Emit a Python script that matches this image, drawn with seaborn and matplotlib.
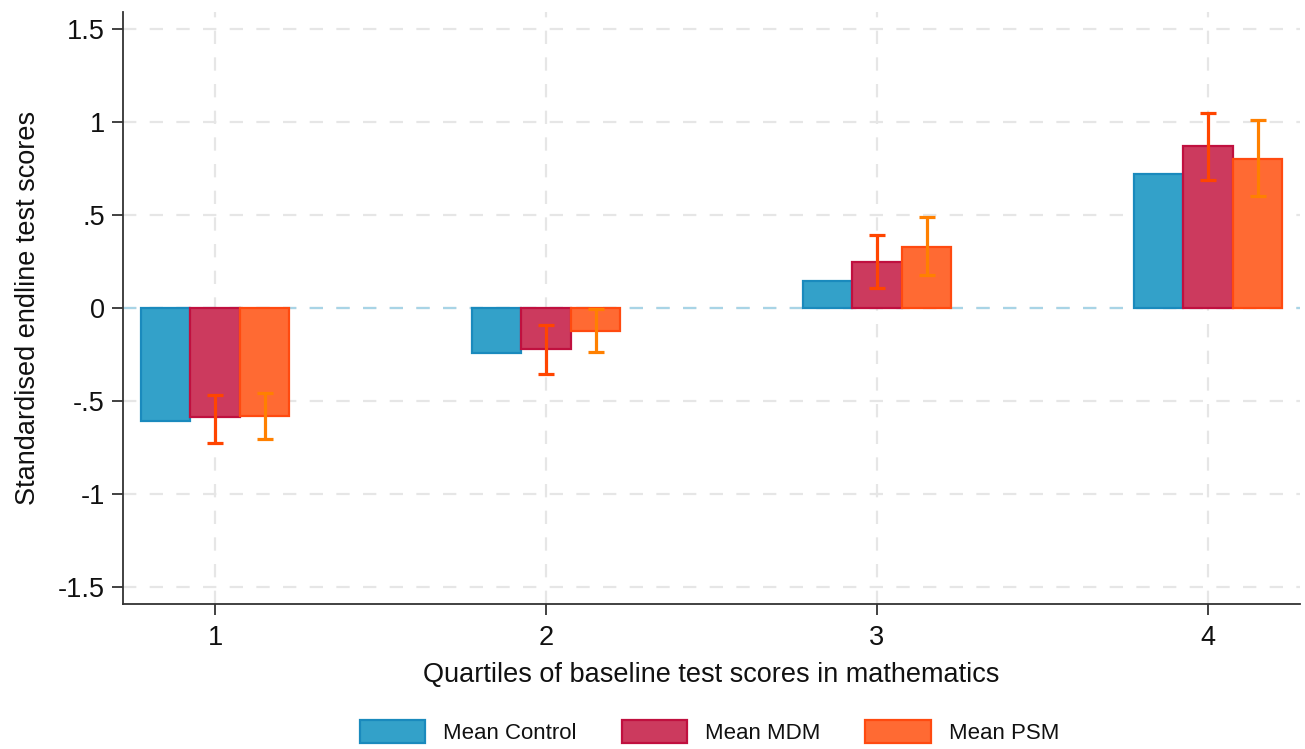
import pandas as pd
import numpy as np
import matplotlib.pyplot as plt
import seaborn as sns

# ---- data ----
quartiles = ['1', '2', '3', '4']
groups = ['Mean Control', 'Mean MDM', 'Mean PSM']

mean_control = [-0.607, -0.240, 0.146, 0.722]
mean_mdm = [-0.586, -0.222, 0.245, 0.871]
mean_psm = [-0.580, -0.124, 0.326, 0.801]

# confidence intervals (no CI drawn for control)
mdm_low = [-0.724, -0.357, 0.109, 0.688]
mdm_high = [-0.470, -0.093, 0.391, 1.050]
psm_low = [-0.706, -0.235, 0.177, 0.600]
psm_high = [-0.459, -0.005, 0.488, 1.011]

ytick_vals = [-1.5, -1, -0.5, 0, 0.5, 1, 1.5]
ytick_labels = ['-1.5', '-1', '-.5', '0', '.5', '1', '1.5']

# ---- styling ----
fill_colors = {'Mean Control': '#33a1c9', 'Mean MDM': '#cc3a5e', 'Mean PSM': '#ff6a33'}
edge_colors = {'Mean Control': '#1a8abd', 'Mean MDM': '#c0103f', 'Mean PSM': '#ff4a10'}
err_colors = {'Mean MDM': '#ff4500', 'Mean PSM': '#ff8000'}

sns.set_theme(style='ticks')
plt.rcParams['font.family'] = ['Liberation Sans', 'DejaVu Sans']
plt.rcParams['text.color'] = '#111111'
plt.rcParams['axes.labelcolor'] = '#111111'

df = pd.DataFrame({
    'quartile': quartiles * 3,
    'group': np.repeat(groups, len(quartiles)),
    'value': mean_control + mean_mdm + mean_psm,
})

fig = plt.figure(figsize=(13.05, 7.49), dpi=100)
ax = fig.add_axes([123 / 1305, 1 - 604 / 749, (1300 - 123) / 1305, (604 - 12) / 749])

sns.barplot(
    data=df, x='quartile', y='value', hue='group',
    order=quartiles, hue_order=groups,
    palette=fill_colors, saturation=1, width=0.45, errorbar=None,
    legend=False, ax=ax, zorder=3,
)

# dashed grid in both directions (seaborn switches the x grid off)
ax.set_axisbelow(True)
ax.grid(True, which='major', axis='both', color='#e6e6e6',
        linestyle=(0, (6, 6)), linewidth=1.6)

for cont, g in zip(ax.containers, groups):
    for p in cont:
        p.set_edgecolor(edge_colors[g])
        p.set_linewidth(1.6)

# error bars at the bar centres
ci = {'Mean MDM': (mean_mdm, mdm_low, mdm_high), 'Mean PSM': (mean_psm, psm_low, psm_high)}
for cont, g in zip(ax.containers, groups):
    if g not in ci:
        continue
    m, lo, hi = (np.array(a) for a in ci[g])
    xs = [p.get_x() + p.get_width() / 2 for p in cont]
    ax.errorbar(xs, m, yerr=[m - lo, hi - m], fmt='none', ecolor=err_colors[g],
                elinewidth=2.3, capsize=5.5, capthick=2.3, zorder=4)

# zero reference line
ax.axhline(0, color='#a8d4e6', linestyle=(0, (6, 6)), linewidth=1.6, zorder=2)

ax.set_xlim(-0.278, 3.278)
ax.set_ylim(-1.59, 1.59)
ax.set_yticks(ytick_vals)
ax.set_yticklabels(ytick_labels)

for s in ['top', 'right']:
    ax.spines[s].set_visible(False)
for s in ['left', 'bottom']:
    ax.spines[s].set_color('#333333')
    ax.spines[s].set_linewidth(1.3)

ax.tick_params(axis='both', which='major', direction='out', length=8, width=1.3,
               bottom=True, left=True, color='#333333', labelsize=19.5, labelcolor='#111111')
ax.tick_params(axis='y', pad=5)
ax.tick_params(axis='x', pad=7)
ax.set_ylabel('Standardised endline test scores', fontsize=19.5, labelpad=12)
ax.set_xlabel('Quartiles of baseline test scores in mathematics', fontsize=19.5, labelpad=8)

handles = [cont.patches[0] for cont in ax.containers[:3]]
fig.legend(handles, groups, loc='center', bbox_to_anchor=(709.5 / 1305, 0.023), ncol=3,
           frameon=False, fontsize=16, labelcolor='#111111', handlelength=2.93,
           handleheight=1.26, handletextpad=0.81, columnspacing=2.03)

fig.savefig('out.png', dpi=100)
